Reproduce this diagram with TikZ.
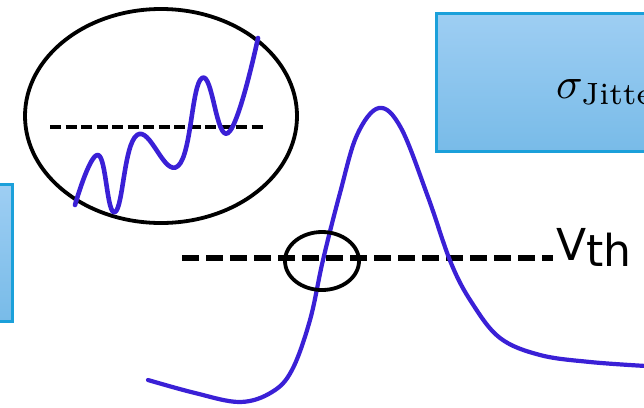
\documentclass[tikz,border=0pt]{standalone}
\usepackage{fontspec}
\usetikzlibrary{shapes.geometric}
\newfontfamily\vthfont{DejaVu Sans}
\begin{document}
\begin{tikzpicture}[x=1pt,y=-1pt,
  bluebox/.style={draw=boxedge,line width=3pt,top color=boxtop,bottom color=boxbot},
  wave/.style={draw=wavecol,line width=4.2pt,line cap=round,line join=round},
  ring/.style={draw=black,line width=3.8pt},
  thresh/.style={draw=black,line width=6pt,dash pattern=on 17pt off 7pt}]
\definecolor{boxedge}{RGB}{27,160,218}
\definecolor{boxtop}{RGB}{158,206,243}
\definecolor{boxbot}{RGB}{120,187,232}
\definecolor{wavecol}{RGB}{58,32,214}
\useasboundingbox (0,0) rectangle (644,407);
\clip (0,0) rectangle (644,407);
% boxes
\node[bluebox,minimum width=230pt,minimum height=138pt,anchor=north west,inner sep=0pt] (jbox) at (435,12) {};
\node[anchor=base west,inner sep=0pt] (jtext) at (556,98) {\scalebox{4.4}{$\sigma_{\mathrm{Jitter}}$}};
\node[bluebox,minimum width=40pt,minimum height=137pt,anchor=north east,inner sep=0pt] (lbox) at (14,183) {};
% big ellipse
\node[ring,ellipse,minimum width=272pt,minimum height=214pt,inner sep=0pt] (big) at (161,116) {};
\coordinate (d1) at (50,127);
\coordinate (d2) at (265,127);
\draw[draw=black,line width=4.5pt,dash pattern=on 11pt off 4.5pt] (d1) -- (d2);
\draw[wave,line width=4.6pt] plot[smooth,tension=0.75] coordinates {(75,205) (98,155) (115,212) (137,135) (178,166) (202,78) (228,133) (258,38)};
% pulse
\coordinate (t1) at (182,258);
\coordinate (t2) at (553,258);
\draw[thresh] (t1) -- (t2);
\draw[wave] plot[smooth,tension=0.6] coordinates {(148,380) (195,393) (240,402) (272,392) (292,370) (310,320) (323,260) (340,193) (357,135) (379,108) (401,128) (428,197) (451,263) (472,303) (500,338) (540,355) (590,362) (646,366)};
\node[ring,ellipse,minimum width=74pt,minimum height=58pt,inner sep=0pt] (small) at (322,261) {};
\node[anchor=base west,inner sep=0pt] (vth) at (556,266) {\vthfont\fontsize{44}{48}\selectfont\raisebox{6pt}{V}th};
\end{tikzpicture}
\end{document}
